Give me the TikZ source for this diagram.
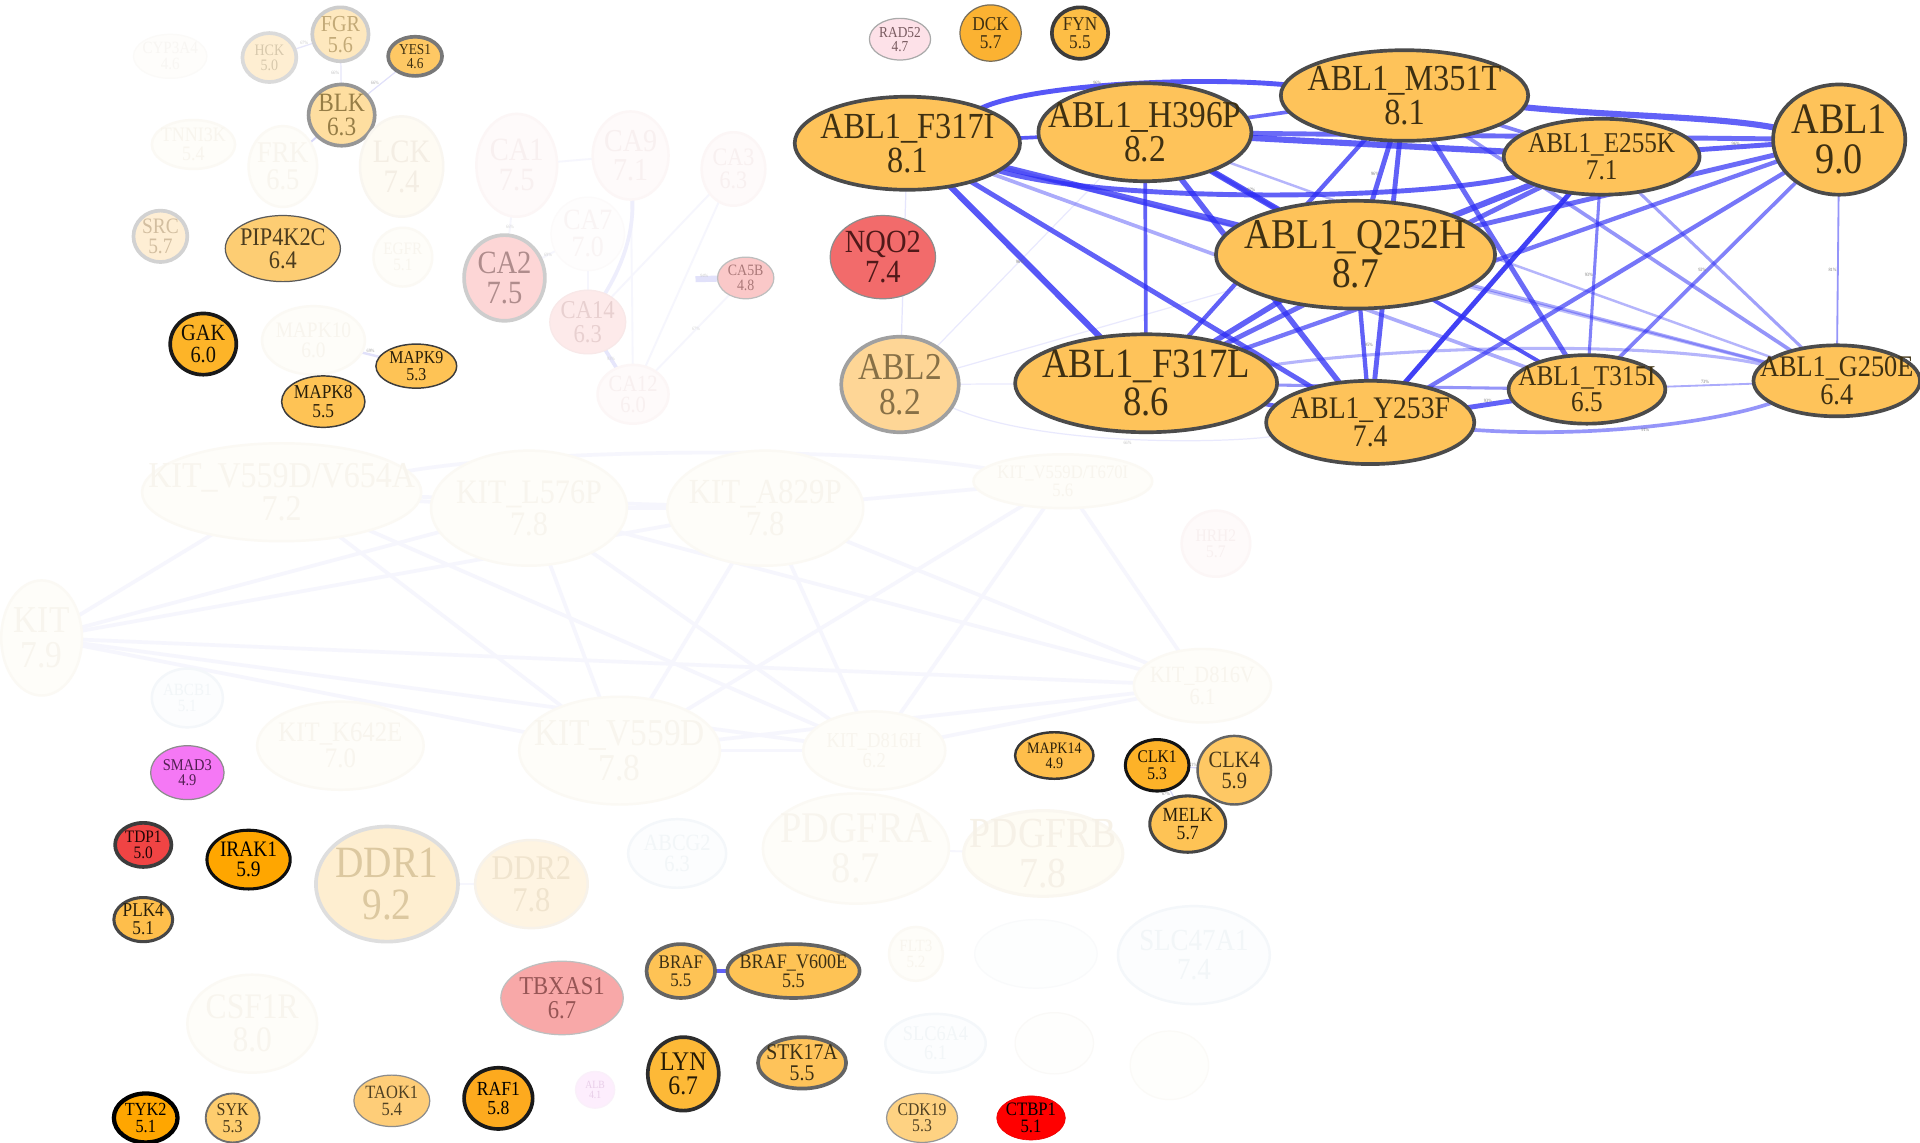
\documentclass[tikz,border=0pt]{standalone}
\usepackage{fontspec}
\setmainfont{Liberation Serif}[FakeStretch=0.88]
\usetikzlibrary{shapes.geometric}
\pgfdeclarelayer{edges}
\pgfsetlayers{edges,main}
\definecolor{cblue}{RGB}{45,45,245}
\definecolor{cablf}{RGB}{254,195,90}
\definecolor{cablb}{RGB}{75,75,75}
\definecolor{cablt}{RGB}{62,48,18}
\definecolor{cdark}{RGB}{20,15,5}
\definecolor{cfof}{RGB}{254,253,249}
\definecolor{cfob}{RGB}{251,249,244}
\definecolor{cfot}{RGB}{248,245,238}
\definecolor{cfpf}{RGB}{254,250,250}
\definecolor{cfpb}{RGB}{252,246,246}
\definecolor{cfpt}{RGB}{248,240,240}
\definecolor{cfbf}{RGB}{252,253,254}
\definecolor{cfbb}{RGB}{244,247,250}
\definecolor{cfbt}{RGB}{242,246,248}
\definecolor{clav}{RGB}{246,246,253}
\definecolor{clav2}{RGB}{215,215,248}
\definecolor{cgl}{RGB}{120,120,120}
\tikzset{
  gell/.style={ellipse, inner sep=0pt, outer sep=0pt},
  gtxt/.style={inner sep=0pt, align=center},
  fsz/.style 2 args={font=\fontsize{#1}{#2}\selectfont},
  abl/.style={fill=cablf, draw=cablb, line width=3pt},
  fo/.style={fill=cfof, draw=cfob, line width=2pt},
  fp/.style={fill=cfpf, draw=cfpb, line width=2pt},
  fb/.style={fill=cfbf, draw=cfbb, line width=2pt},
  eb/.style={draw=cblue, line cap=round},
  ek/.style={draw=clav, line width=3pt},
  el/.style={draw=clav2, line width=1pt},
  elab/.style={font=\fontsize{4}{4}\selectfont, text=cgl, inner sep=0pt},
}
\newcommand\gnd[8]{%
  \node[gell, minimum width=2*#4pt, minimum height=2*#5pt, #6] (#1) at (#2,#3) {};
  \node[gtxt, #7] (#1-t) at (#1.center) {#8};}
\begin{document}
\begin{tikzpicture}[x=1pt,y=-1pt]
\useasboundingbox (0,0) rectangle (1568,933);
% ---------------- top right ----------------
\gnd{rad52}{735}{32}{25}{17}{fill={rgb,255:red,253;green,225;blue,232}, draw={rgb,255:red,170;green,170;blue,170}, line width=1pt}{text={rgb,255:red,120;green,90;blue,95}, fsz={12.4}{11.4}}{RAD52\\4.7}
\gnd{dck}{809}{27}{25}{23}{fill={rgb,255:red,251;green,178;blue,50}, draw={rgb,255:red,120;green,110;blue,90}, line width=1pt}{text=cablt, fsz={16}{14.7}}{DCK\\5.7}
\gnd{fyn}{882}{27}{23}{21}{fill={rgb,255:red,253;green,190;blue,70}, draw={rgb,255:red,60;green,60;blue,60}, line width=3pt}{text=cablt, fsz={16}{14.7}}{FYN\\5.5}
\gnd{f317i}{741}{117}{92}{38}{abl}{text=cablt, fsz={30}{27.5}}{ABL1\_F317I\\8.1}
\gnd{h396p}{935}{108}{87}{40}{abl}{text=cablt, fsz={31}{28.5}}{ABL1\_H396P\\8.2}
\gnd{m351t}{1147}{78}{101}{37}{abl}{text=cablt, fsz={30}{27.5}}{ABL1\_M351T\\8.1}
\gnd{e255k}{1308}{128}{80}{31}{abl}{text=cablt, fsz={23.4}{21.5}}{ABL1\_E255K\\7.1}
\gnd{abl1}{1502}{114}{54}{45}{abl}{text=cablt, fsz={35.5}{32.5}}{ABL1\\9.0}
\gnd{nqo2}{721}{210}{43}{34}{fill={rgb,255:red,242;green,107;blue,107}, draw={rgb,255:red,140;green,140;blue,140}, line width=1pt}{text={rgb,255:red,80;green,25;blue,25}, fsz={26.4}{24.3}}{NQO2\\7.4}
\gnd{q252h}{1107}{208}{114}{44}{abl}{text=cablt, fsz={34.6}{31.8}}{ABL1\_Q252H\\8.7}
\gnd{abl2}{735}{314}{48}{39}{fill={rgb,255:red,254;green,214;blue,150}, draw={rgb,255:red,160;green,160;blue,160}, line width=3pt}{text={rgb,255:red,135;green,112;blue,70}, fsz={31}{28.5}}{ABL2\\8.2}
\gnd{f317l}{936}{313}{107}{40}{abl}{text=cablt, fsz={34}{31.3}}{ABL1\_F317L\\8.6}
\gnd{y253f}{1119}{345}{85}{34}{abl}{text=cablt, fsz={25.6}{23.5}}{ABL1\_Y253F\\7.4}
\gnd{t315i}{1296}{318}{64}{28}{abl}{text=cablt, fsz={23.4}{21.5}}{ABL1\_T315I\\6.5}
\gnd{g250e}{1500}{311}{68}{29}{abl}{text=cablt, fsz={24.4}{22.5}}{ABL1\_G250E\\6.4}
% ---------------- top left ----------------
\gnd{cyp}{139}{46}{30}{18}{fill={rgb,255:red,254;green,253;blue,251}, draw={rgb,255:red,251;green,250;blue,248}, line width=1pt}{text={rgb,255:red,248;green,246;blue,243}, fsz={14}{12.9}}{CYP3A4\\4.6}
\gnd{hck}{220}{47}{22}{20}{fill={rgb,255:red,254;green,238;blue,210}, draw={rgb,255:red,218;green,218;blue,218}, line width=3pt}{text={rgb,255:red,215;green,200;blue,172}, fsz={13}{12}}{HCK\\5.0}
\gnd{fgr}{278}{28}{23}{22}{fill={rgb,255:red,254;green,232;blue,190}, draw={rgb,255:red,205;green,205;blue,205}, line width=3pt}{text={rgb,255:red,195;green,170;blue,120}, fsz={18.7}{17.2}}{FGR\\5.6}
\gnd{yes1}{339}{46}{22}{16}{fill={rgb,255:red,254;green,200;blue,100}, draw={rgb,255:red,120;green,120;blue,120}, line width=3pt}{text=cablt, fsz={12.4}{11.4}}{YES1\\4.6}
\gnd{blk}{279}{94}{27}{25}{fill={rgb,255:red,254;green,222;blue,160}, draw={rgb,255:red,150;green,150;blue,150}, line width=3pt}{text={rgb,255:red,150;green,125;blue,70}, fsz={21.6}{19.9}}{BLK\\6.3}
\gnd{tnni3k}{158}{118}{34}{20}{fo}{text=cfot, fsz={16.7}{15.4}}{TNNI3K\\5.4}
\gnd{frk}{231}{136}{28}{33}{fo}{text=cfot, fsz={24.5}{22.5}}{FRK\\6.5}
\gnd{lck}{328}{136}{34}{41}{fill={rgb,255:red,254;green,251;blue,243}, draw={rgb,255:red,249;green,246;blue,240}, line width=2pt}{text={rgb,255:red,244;green,238;blue,228}, fsz={26.7}{24.6}}{LCK\\7.4}
\gnd{ca1}{422}{135}{33}{42}{fp}{text=cfpt, fsz={26.5}{24.4}}{CA1\\7.5}
\gnd{ca9}{515}{127}{31}{36}{fp}{text=cfpt, fsz={26}{24}}{CA9\\7.1}
\gnd{ca3}{599}{138}{26}{30}{fp}{text=cfpt, fsz={20.5}{18.9}}{CA3\\6.3}
\gnd{ca7}{480}{191}{30}{30}{fill={rgb,255:red,254;green,253;blue,253}, draw={rgb,255:red,252;green,250;blue,250}, line width=1pt}{text={rgb,255:red,249;green,244;blue,244}, fsz={24}{22}}{CA7\\7.0}
\gnd{ca2}{412}{227}{33}{35}{fill={rgb,255:red,253;green,214;blue,214}, draw={rgb,255:red,205;green,205;blue,205}, line width=3pt}{text={rgb,255:red,175;green,140;blue,140}, fsz={26.5}{24.4}}{CA2\\7.5}
\gnd{ca14}{480}{263}{31}{26}{fill={rgb,255:red,253;green,234;blue,234}, draw={rgb,255:red,248;green,232;blue,232}, line width=1pt}{text={rgb,255:red,232;green,208;blue,208}, fsz={21}{19.3}}{CA14\\6.3}
\gnd{ca12}{517}{322}{29}{24}{fp}{text=cfpt, fsz={19}{17.5}}{CA12\\6.0}
\gnd{ca5b}{609}{227}{23}{17}{fill={rgb,255:red,250;green,200;blue,200}, draw={rgb,255:red,190;green,190;blue,190}, line width=1pt}{text={rgb,255:red,170;green,120;blue,120}, fsz={12.9}{11.9}}{CA5B\\4.8}
\gnd{src}{131}{193}{22}{21}{fill={rgb,255:red,254;green,238;blue,212}, draw={rgb,255:red,210;green,210;blue,210}, line width=3pt}{text={rgb,255:red,210;green,190;blue,160}, fsz={18}{16.6}}{SRC\\5.7}
\gnd{pip4k2c}{231}{203}{47}{27}{fill={rgb,255:red,253;green,205;blue,115}, draw={rgb,255:red,90;green,90;blue,90}, line width=1pt}{text={rgb,255:red,75;green,60;blue,30}, fsz={20.7}{19}}{PIP4K2C\\6.4}
\gnd{egfr}{329}{210}{24}{24}{fo}{text=cfot, fsz={14.2}{13}}{EGFR\\5.1}
\gnd{gak}{166}{281}{27}{25}{fill={rgb,255:red,253;green,180;blue,40}, draw={rgb,255:red,25;green,25;blue,25}, line width=3pt}{text=cdark, fsz={18.9}{17.4}}{GAK\\6.0}
\gnd{mapk10}{256}{278}{42}{28}{fo}{text=cfot, fsz={18}{16.6}}{MAPK10\\6.0}
\gnd{mapk9}{340}{299}{33}{18}{fill={rgb,255:red,254;green,195;blue,85}, draw={rgb,255:red,60;green,60;blue,60}, line width=1.2pt}{text={rgb,255:red,40;green,30;blue,10}, fsz={14.8}{13.6}}{MAPK9\\5.3}
\gnd{mapk8}{264}{328}{34}{21}{fill={rgb,255:red,254;green,195;blue,85}, draw={rgb,255:red,60;green,60;blue,60}, line width=1.2pt}{text={rgb,255:red,40;green,30;blue,10}, fsz={16.1}{14.8}}{MAPK8\\5.5}
% ---------------- KIT cluster ----------------
\gnd{kv654a}{230}{402}{114}{40}{fo}{text=cfot, fsz={29.7}{27.3}}{KIT\_V559D/V654A\\7.2}
\gnd{kl576p}{432}{415}{80}{47}{fo}{text=cfot, fsz={28}{25.8}}{KIT\_L576P\\7.8}
\gnd{ka829p}{625}{415}{80}{47}{fo}{text=cfot, fsz={28.7}{26.4}}{KIT\_A829P\\7.8}
\gnd{kt670i}{868}{393}{73}{22}{fo}{text=cfot, fsz={15.5}{14.3}}{KIT\_V559D/T670I\\5.6}
\gnd{hrh2}{993}{444}{28}{27}{fp}{text=cfpt, fsz={14.4}{13.2}}{HRH2\\5.7}
\gnd{kit}{34}{521}{33}{47}{fo}{text=cfot, fsz={31}{28.5}}{KIT\\7.9}
\gnd{abcb1}{153}{570}{29}{24}{fb}{text=cfbt, fsz={14}{12.9}}{ABCB1\\5.1}
\gnd{kd816v}{982}{560}{56}{30}{fo}{text=cfot, fsz={19}{17.5}}{KIT\_D816V\\6.1}
\gnd{kk642e}{278}{609}{68}{36}{fo}{text=cfot, fsz={23}{21.2}}{KIT\_K642E\\7.0}
\gnd{kv559d}{506}{613}{82}{44}{fo}{text=cfot, fsz={31}{28.5}}{KIT\_V559D\\7.8}
\gnd{kd816h}{714}{613}{58}{32}{fo}{text=cfot, fsz={17.3}{15.9}}{KIT\_D816H\\6.2}
\gnd{smad3}{153}{631}{30}{22}{fill={rgb,255:red,245;green,120;blue,245}, draw={rgb,255:red,140;green,140;blue,140}, line width=1pt}{text={rgb,255:red,80;green,30;blue,80}, fsz={13.4}{12.3}}{SMAD3\\4.9}
\gnd{mapk14}{861}{617}{32}{19}{fill={rgb,255:red,254;green,190;blue,75}, draw={rgb,255:red,55;green,55;blue,55}, line width=2pt}{text={rgb,255:red,40;green,30;blue,10}, fsz={13}{12}}{MAPK14\\4.9}
\gnd{clk1}{945}{625}{26}{21}{fill={rgb,255:red,253;green,178;blue,40}, draw={rgb,255:red,20;green,20;blue,20}, line width=2.5pt}{text=cdark, fsz={14.5}{13.3}}{CLK1\\5.3}
\gnd{clk4}{1008}{629}{30}{28}{fill={rgb,255:red,254;green,200;blue,100}, draw={rgb,255:red,100;green,100;blue,100}, line width=2pt}{text={rgb,255:red,70;green,55;blue,25}, fsz={19}{17.5}}{CLK4\\5.9}
\gnd{melk}{970}{673}{31}{23}{fill={rgb,255:red,254;green,195;blue,85}, draw={rgb,255:red,70;green,70;blue,70}, line width=2.5pt}{text={rgb,255:red,40;green,30;blue,10}, fsz={16.4}{15.1}}{MELK\\5.7}
\gnd{tdp1}{117}{690}{23}{18}{fill={rgb,255:red,240;green,68;blue,68}, draw={rgb,255:red,60;green,60;blue,60}, line width=3pt}{text={rgb,255:red,30;green,5;blue,5}, fsz={14.3}{13.2}}{TDP1\\5.0}
\gnd{irak1}{203}{702}{34}{24}{fill={rgb,255:red,255;green,166;blue,0}, draw={rgb,255:red,15;green,15;blue,15}, line width=2.5pt}{text=black, fsz={18}{16.6}}{IRAK1\\5.9}
\gnd{plk4}{117}{751}{24}{18}{fill={rgb,255:red,254;green,190;blue,75}, draw={rgb,255:red,70;green,70;blue,70}, line width=2.5pt}{text={rgb,255:red,40;green,30;blue,10}, fsz={16}{14.7}}{PLK4\\5.1}
\gnd{ddr1}{316}{722}{58}{47}{fill={rgb,255:red,254;green,238;blue,208}, draw={rgb,255:red,222;green,222;blue,222}, line width=3pt}{text={rgb,255:red,220;green,200;blue,160}, fsz={36.5}{33.6}}{DDR1\\9.2}
\gnd{ddr2}{434}{722}{46}{36}{fill={rgb,255:red,254;green,244;blue,226}, draw={rgb,255:red,247;green,242;blue,234}, line width=2pt}{text={rgb,255:red,240;green,228;blue,206}, fsz={28.3}{26}}{DDR2\\7.8}
\gnd{abcg2}{553}{697}{40}{28}{fb}{text=cfbt, fsz={19}{17.5}}{ABCG2\\6.3}
\gnd{pdgfra}{699}{693}{76}{45}{fo}{text=cfot, fsz={35.7}{32.8}}{PDGFRA\\8.7}
\gnd{pdgfrb}{852}{697}{65}{35}{fill={rgb,255:red,254;green,252;blue,244}, draw={rgb,255:red,250;green,247;blue,240}, line width=2.5pt}{text={rgb,255:red,246;green,241;blue,231}, fsz={35}{32.2}}{PDGFRB\\7.8}
\gnd{flt3}{748}{779}{22}{22}{fo}{text=cfot, fsz={14}{12.9}}{FLT3\\5.2}
\node[gell, minimum width=100pt, minimum height=56pt, fill={rgb,255:red,253;green,254;blue,254}, draw={rgb,255:red,249;green,250;blue,251}, line width=1pt] (unka) at (846,779) {};
\gnd{slc47a1}{975}{780}{62}{40}{fb}{text=cfbt, fsz={25}{23}}{SLC47A1\\7.4}
\gnd{slc6a4}{764}{852}{41}{24}{fb}{text=cfbt, fsz={17}{15.6}}{SLC6A4\\6.1}
\node[gell, minimum width=64pt, minimum height=50pt, fill={rgb,255:red,254;green,254;blue,253}, draw={rgb,255:red,250;green,249;blue,247}, line width=1pt] (unkb) at (861,852) {};
\node[gell, minimum width=64pt, minimum height=56pt, fill={rgb,255:red,254;green,254;blue,252}, draw={rgb,255:red,251;green,250;blue,247}, line width=1pt] (unkc) at (955,870) {};
% ---------------- bottom ----------------
\gnd{braf}{556}{793}{28}{22}{fill={rgb,255:red,254;green,195;blue,85}, draw={rgb,255:red,100;green,100;blue,100}, line width=3pt}{text={rgb,255:red,60;green,48;blue,20}, fsz={15.7}{14.4}}{BRAF\\5.5}
\gnd{brafv}{648}{793}{54}{22}{fill={rgb,255:red,254;green,195;blue,85}, draw={rgb,255:red,100;green,100;blue,100}, line width=3pt}{text={rgb,255:red,60;green,48;blue,20}, fsz={16.8}{15.5}}{BRAF\_V600E\\5.5}
\gnd{tbxas1}{459}{815}{50}{30}{fill={rgb,255:red,248;green,168;blue,168}, draw={rgb,255:red,190;green,190;blue,190}, line width=1pt}{text={rgb,255:red,150;green,85;blue,85}, fsz={21}{19.3}}{TBXAS1\\6.7}
\gnd{csf1r}{206}{836}{53}{40}{fo}{text=cfot, fsz={29.3}{27}}{CSF1R\\8.0}
\gnd{lyn}{558}{877}{29}{30}{fill={rgb,255:red,253;green,185;blue,55}, draw={rgb,255:red,45;green,45;blue,45}, line width=3pt}{text={rgb,255:red,35;green,25;blue,5}, fsz={22}{20.2}}{LYN\\6.7}
\gnd{stk17a}{655}{868}{36}{21}{fill={rgb,255:red,254;green,195;blue,90}, draw={rgb,255:red,100;green,100;blue,100}, line width=3pt}{text={rgb,255:red,60;green,48;blue,20}, fsz={18.3}{16.8}}{STK17A\\5.5}
\gnd{taok1}{320}{899}{31}{21}{fill={rgb,255:red,254;green,205;blue,120}, draw={rgb,255:red,140;green,140;blue,140}, line width=1pt}{text={rgb,255:red,80;green,65;blue,35}, fsz={15.3}{14.1}}{TAOK1\\5.4}
\gnd{raf1}{407}{897}{28}{25}{fill={rgb,255:red,253;green,170;blue,30}, draw={rgb,255:red,25;green,25;blue,25}, line width=3pt}{text=black, fsz={16.3}{15}}{RAF1\\5.8}
\gnd{alb}{486}{890}{16}{15}{fill={rgb,255:red,253;green,238;blue,253}, draw={rgb,255:red,250;green,240;blue,250}, line width=1pt}{text={rgb,255:red,232;green,205;blue,232}, fsz={9}{8.3}}{ALB\\4.1}
\gnd{tyk2}{119}{913}{26}{20}{fill={rgb,255:red,255;green,166;blue,0}, draw=black, line width=3.5pt}{text=black, fsz={15.1}{13.9}}{TYK2\\5.1}
\gnd{syk}{190}{913}{22}{20}{fill={rgb,255:red,254;green,205;blue,110}, draw={rgb,255:red,110;green,110;blue,110}, line width=1.5pt}{text={rgb,255:red,70;green,55;blue,25}, fsz={14.8}{13.6}}{SYK\\5.3}
\gnd{cdk19}{753}{913}{29}{20}{fill={rgb,255:red,254;green,210;blue,130}, draw={rgb,255:red,150;green,150;blue,150}, line width=1pt}{text={rgb,255:red,80;green,65;blue,35}, fsz={14.6}{13.4}}{CDK19\\5.3}
\gnd{ctbp1}{842}{913}{28}{18}{fill={rgb,255:red,255;green,0;blue,0}, draw={rgb,255:red,235;green,0;blue,0}, line width=0.5pt}{text=black, fsz={15.5}{14.3}}{CTBP1\\5.1}
\coordinate (ca5bstub) at (568,228);
% ---------------- edges ----------------
\begin{pgfonlayer}{edges}
\fill[white] (0,0) rectangle (1568,933);
% KIT cluster
\foreach \a/\b in {kit/kv654a, kit/kl576p, kit/ka829p, kit/kd816v, kit/kd816h, kit/kv559d,
  kv654a/kl576p, kv654a/kv559d, kv654a/kd816h, kv654a/ka829p,
  kl576p/ka829p, kl576p/kv559d, kl576p/kd816h, kl576p/kd816v,
  ka829p/kv559d, ka829p/kd816h, ka829p/kd816v, ka829p/kt670i,
  kt670i/kv559d, kt670i/kd816v, kt670i/kd816h,
  kv559d/kd816h, kv559d/kd816v, kd816h/kd816v}
  {\draw[ek] (\a) -- (\b);}
\draw[ek] (kv654a) .. controls (450,365) and (700,365) .. (kt670i);
% CA cluster and small groups
\foreach \a/\b in {ca1/ca2, ca2/ca7, ca7/ca14, ca3/ca14, ca9/ca12, ca5b/ca12, ca3/ca12, ca1/ca9, blk/lck, pdgfra/pdgfrb, ddr1/ddr2}
  {\draw[draw={rgb,255:red,246;green,246;blue,253}, line width=1.5pt] (\a) -- (\b);}
\draw[draw={rgb,255:red,238;green,238;blue,252}, line width=3pt] (ca9) .. controls (518,200) and (500,230) .. (ca14);
\draw[draw={rgb,255:red,230;green,230;blue,251}, line width=3pt] (ca14) -- (ca12);
\draw[draw={rgb,255:red,225;green,225;blue,250}, line width=5pt] (ca5b) -- (ca5bstub);
\path (ca2) -- (ca7) node[elab, pos=.5, text={rgb,255:red,210;green,210;blue,210}] (lca27) {69\%};
\path (ca1) -- (ca2) node[elab, pos=.55, text={rgb,255:red,210;green,210;blue,210}] (lca12) {66\%};
\path (ca14) -- (ca12) node[elab, pos=.5, text={rgb,255:red,210;green,210;blue,210}] (lca1412) {93\%};
\path (ca5b) -- (ca12) node[elab, pos=.45, text={rgb,255:red,210;green,210;blue,210}] (lca5b) {67\%};
\path (ca5b) -- (ca5bstub) node[elab, pos=.6, above=1pt, text={rgb,255:red,200;green,200;blue,200}] (lca5s) {94\%};
\draw[el, draw={rgb,255:red,230;green,230;blue,250}] (hck) -- (fgr) node[elab, midway, above=1pt, text={rgb,255:red,200;green,200;blue,200}] (lhf) {67\%};
\draw[el, draw={rgb,255:red,230;green,230;blue,250}] (fgr) -- (blk) node[elab, midway, left=1pt, text={rgb,255:red,190;green,190;blue,190}] (lfb) {66\%};
\draw[el, draw={rgb,255:red,225;green,225;blue,250}] (blk) -- (yes1) node[elab, midway, left=2pt, text={rgb,255:red,170;green,170;blue,170}] (lby) {66\%};
\draw[el, draw={rgb,255:red,215;green,215;blue,248}, line width=1.5pt] (blk) -- (frk);
\draw[el, draw={rgb,255:red,240;green,240;blue,252}, line width=2pt] (mapk10) -- (mapk8) node[elab, midway, left=1pt, text={rgb,255:red,160;green,160;blue,160}] (lm108) {65\%};
\draw[el, draw={rgb,255:red,225;green,225;blue,250}, line width=2pt] (mapk10) -- (mapk9) node[elab, midway, above=1pt, text={rgb,255:red,160;green,160;blue,160}] (lm109) {69\%};
\draw[el] (clk1) -- (clk4) node[elab, midway, above=0pt, text={rgb,255:red,150;green,150;blue,150}] (lc14) {71\%};
\draw[el] (clk1) -- (melk) node[elab, midway, left=1pt, text={rgb,255:red,130;green,130;blue,130}] (lcm) {67\%};
\draw[eb, line width=4pt, draw opacity=.75] (braf) -- (brafv);
% ABL cluster
\foreach \a/\b/\w/\o in {
 f317i/h396p/3/.8, f317i/q252h/5/.75, f317i/f317l/5/.8, f317i/y253f/4/.75, f317i/t315i/3/.4, f317i/g250e/2.5/.3,
 h396p/m351t/3/.7, h396p/e255k/5/.75, h396p/abl1/4/.7, h396p/q252h/5/.8, h396p/f317l/3/.75, h396p/y253f/4.5/.75, h396p/t315i/3/.5, h396p/g250e/2/.35,
 m351t/e255k/3/.6, m351t/q252h/4/.75, m351t/f317l/3.5/.75, m351t/y253f/4/.75, m351t/t315i/4/.7, m351t/g250e/3/.5,
 e255k/abl1/4/.75, e255k/q252h/5/.75, e255k/f317l/4/.7, e255k/y253f/4/.9, e255k/t315i/2.5/.6, e255k/g250e/2.5/.45,
 abl1/q252h/4/.7, abl1/f317l/3.5/.65, abl1/y253f/3.5/.65, abl1/t315i/3/.6, abl1/g250e/1.5/.5,
 q252h/f317l/4.5/.75, q252h/y253f/3.5/.75, q252h/t315i/3/.6, q252h/g250e/2.5/.4,
 f317l/y253f/3.5/.75, f317l/t315i/2.5/.5,
 y253f/t315i/4/.75, t315i/g250e/1.5/.4,
 abl2/f317i/1/.12, abl2/h396p/1/.1, abl2/q252h/1/.1, abl2/f317l/1/.1}
 {\draw[eb, line width=\w pt, draw opacity=\o] (\a) -- (\b);}
\draw[eb, line width=4pt, draw opacity=.8] (f317i) .. controls (840,70) and (970,62) .. (m351t);
\draw[eb, line width=4pt, draw opacity=.75] (f317i) .. controls (900,165) and (1150,165) .. (e255k);
\draw[eb, line width=5pt, draw opacity=.75] (m351t) .. controls (1320,95) and (1400,95) .. (abl1);
\draw[eb, line width=3pt, draw opacity=.5] (y253f) .. controls (1300,358) and (1400,345) .. (g250e);
\draw[eb, line width=2.5pt, draw opacity=.35] (f317l) .. controls (1150,282) and (1350,278) .. (g250e);
\draw[eb, line width=1pt, draw opacity=.1] (abl2) .. controls (850,365) and (1000,362) .. (y253f);
% ABL edge labels
\path (f317i) .. controls (840,70) and (970,62) .. (m351t) node[elab, pos=.45, above=1pt] (l1) {96\%};
\path (abl1) -- (g250e) node[elab, pos=.5, left=1pt] (l2) {81\%};
\path (t315i) -- (g250e) node[elab, pos=.45, above=1pt] (l3) {73\%};
\path (y253f) -- (t315i) node[elab, pos=.45, above=1pt] (l4) {93\%};
\path (e255k) -- (abl1) node[elab, pos=.5, above=1pt] (l5) {96\%};
\path (f317l) -- (y253f) node[elab, pos=.5, left=1pt] (l6) {92\%};
\path (h396p) -- (q252h) node[elab, pos=.5, right=2pt] (l7) {97\%};
\path (q252h) -- (y253f) node[elab, pos=.5, right=1pt] (l8) {95\%};
\path (f317i) -- (f317l) node[elab, pos=.5, left=1pt] (l9) {96\%};
\path (m351t) -- (q252h) node[elab, pos=.55, left=1pt] (l10) {96\%};
\path (e255k) -- (t315i) node[elab, pos=.5, left=1pt] (l11) {93\%};
\path (abl1) -- (t315i) node[elab, pos=.5, left=1pt] (l12) {92\%};
\path (y253f) .. controls (1300,358) and (1400,345) .. (g250e) node[elab, pos=.5, below=1pt] (l13) {91\%};
\path (abl2) .. controls (850,365) and (1000,362) .. (y253f) node[elab, pos=.5, below=1pt, text={rgb,255:red,190;green,190;blue,190}] (l14) {66\%};
\end{pgfonlayer}
\end{tikzpicture}
\end{document}
